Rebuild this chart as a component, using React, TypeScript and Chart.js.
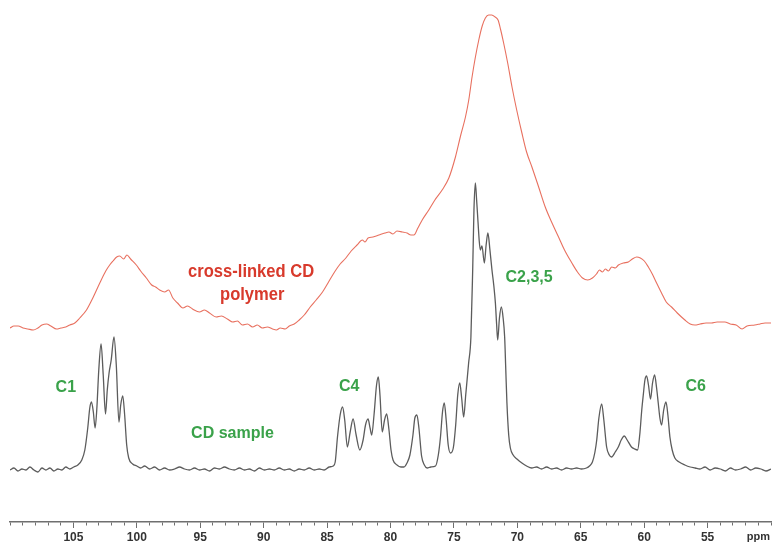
import { useEffect, useRef } from 'react';
import { Chart, registerables } from 'chart.js';

Chart.register(...registerables);

// CD sample (black trace): chemical shift (ppm) and intensity (a.u.)
const sampleShift = [
  110.0, 109.69, 109.37, 109.06, 108.74, 108.43, 108.11, 107.8, 107.48, 107.17, 106.85, 106.54, 106.23, 105.91,
  105.6, 105.28, 104.97, 104.65, 104.34, 104.1, 103.87, 103.71, 103.58, 103.43, 103.29, 103.16, 103.0, 102.82,
  102.65, 102.47, 102.33, 102.19, 102.02, 101.8, 101.62, 101.41, 101.27, 101.11, 100.96, 100.8, 100.64, 100.33,
  100.01, 99.7, 99.38, 98.99, 98.6, 98.21, 97.81, 97.42, 97.03, 96.63, 96.24, 95.85, 95.45, 95.06, 94.67, 94.27,
  93.88, 93.49, 93.09, 92.7, 92.31, 91.91, 91.52, 91.13, 90.73, 90.34, 89.95, 89.55, 89.16, 88.77, 88.38, 87.98,
  87.59, 87.2, 86.8, 86.41, 86.02, 85.62, 85.23, 84.84, 84.52, 84.36, 84.18, 83.97, 83.78, 83.61, 83.4, 83.18,
  82.95, 82.71, 82.42, 82.16, 81.97, 81.77, 81.61, 81.48, 81.3, 81.1, 80.96, 80.83, 80.65, 80.47, 80.3, 80.12,
  79.96, 79.8, 79.49, 79.18, 78.94, 78.7, 78.47, 78.23, 78.08, 77.92, 77.76, 77.55, 77.33, 77.11, 76.82, 76.45,
  76.23, 76.06, 75.9, 75.76, 75.61, 75.45, 75.27, 75.05, 74.86, 74.7, 74.54, 74.39, 74.23, 74.07, 73.84, 73.66,
  73.52, 73.42, 73.31, 73.21, 73.1, 73.01, 72.92, 72.79, 72.6, 72.46, 72.32, 72.16, 72.0, 71.86, 71.73, 71.63,
  71.55, 71.41, 71.26, 71.12, 71.0, 70.91, 70.82, 70.68, 70.55, 70.33, 70.03, 69.64, 69.27, 68.87, 68.48, 68.09,
  67.69, 67.3, 66.91, 66.51, 66.12, 65.73, 65.33, 64.94, 64.55, 64.31, 64.08, 63.88, 63.74, 63.57, 63.35, 63.18,
  62.96, 62.75, 62.57, 62.28, 62.04, 61.81, 61.57, 61.34, 61.0, 60.75, 60.52, 60.35, 60.19, 60.07, 59.94, 59.81,
  59.66, 59.5, 59.34, 59.18, 59.02, 58.89, 58.76, 58.63, 58.46, 58.28, 58.13, 57.97, 57.79, 57.58, 57.24, 56.79,
  56.37, 55.98, 55.6, 55.2, 54.8, 54.4, 54.0, 53.6, 53.2, 52.8, 52.4, 52.0, 51.6, 51.2, 50.8, 50.4, 50.0,
];
const sampleIntensity = [
  52, 54, 51, 53, 52, 55, 52, 50, 54, 52, 54, 51, 53, 52,
  55, 53, 55, 57, 62, 72, 94, 114, 120, 110, 94, 112, 152, 178,
  147, 108, 132, 149, 162, 185, 157, 100, 117, 126, 107, 77, 64, 58,
  56, 54, 56, 53, 55, 52, 54, 52, 53, 55, 53, 52, 54, 52, 53, 51,
  54, 53, 55, 53, 52, 54, 52, 53, 51, 54, 52, 53, 52, 54, 52, 53,
  51, 53, 52, 54, 52, 53, 52, 55, 56, 60, 85, 107, 115, 102, 75, 90,
  103, 87, 72, 82, 97, 103, 94, 87, 107, 137, 145, 127, 90, 102, 108, 92,
  72, 62, 57, 55, 55, 59, 67, 87, 104, 107, 94, 66, 57, 54, 55, 56,
  67, 85, 110, 119, 102, 77, 69, 74, 97, 127, 139, 124, 105, 127, 159, 185,
  252, 312, 339, 322, 300, 282, 272, 276, 259, 277, 289, 272, 252, 237, 219, 197,
  182, 204, 215, 204, 185, 152, 119, 87, 74, 67, 63, 59, 56, 54, 55, 53,
  55, 53, 54, 52, 54, 53, 54, 53, 54, 56, 60, 70, 82, 104, 118, 102,
  75, 67, 65, 70, 75, 82, 86, 82, 75, 73, 72, 87, 112, 127, 142, 146,
  137, 123, 139, 147, 134, 119, 104, 97, 112, 120, 107, 85, 72, 64, 60, 57,
  55, 54, 53, 55, 52, 54, 53, 51, 54, 52, 53, 55, 52, 54, 53, 51, 53,
];

// Cross-linked CD polymer (red trace)
const polymerShift = [
  110.0, 109.69, 109.35, 108.98, 108.58, 108.17, 107.8, 107.48, 107.11, 106.78, 106.33, 105.99, 105.6, 105.28,
  104.89, 104.5, 103.97, 103.47, 102.92, 102.45, 102.14, 101.88, 101.59, 101.35, 101.04, 100.78, 100.49, 100.04,
  99.7, 99.25, 98.83, 98.52, 98.2, 97.81, 97.5, 97.16, 96.79, 96.37, 96.0, 95.61, 95.06, 94.67, 94.27, 93.75,
  93.33, 92.86, 92.44, 92.07, 91.68, 91.28, 90.87, 90.5, 90.11, 89.71, 89.3, 89.0, 88.69, 88.3, 87.98, 87.59,
  87.2, 86.8, 86.33, 85.86, 85.36, 84.84, 84.36, 83.97, 83.52, 83.1, 82.64, 82.22, 82.01, 81.77, 81.38, 80.91,
  80.44, 80.12, 79.81, 79.49, 79.07, 78.7, 78.39, 78.15, 77.84, 77.5, 76.98, 76.5, 75.93, 75.4, 74.88, 74.46,
  74.09, 73.83, 73.57, 73.32, 73.04, 72.77, 72.52, 72.26, 72.02, 71.75, 71.52, 71.31, 71.08, 70.76, 70.42, 70.05,
  69.64, 69.27, 68.85, 68.32, 67.8, 67.3, 66.75, 66.28, 65.7, 65.26, 64.86, 64.45, 64.08, 63.76, 63.53, 63.29,
  63.06, 62.82, 62.56, 62.27, 62.03, 61.64, 61.25, 60.93, 60.59, 60.3, 59.99, 59.67, 59.36, 59.02, 58.63, 58.26,
  57.84, 57.39, 56.79, 56.37, 56.0, 55.59, 55.12, 54.7, 54.25, 53.64, 53.22, 52.75, 52.28, 51.89, 51.28, 50.87,
  50.47, 50.0,
];
const polymerIntensity = [
  194, 196, 196, 194, 193, 192, 194, 197, 198, 196, 193, 194, 195, 197,
  199, 204, 212, 224, 239, 251, 257, 261, 265, 266, 263, 267, 263, 257,
  251, 244, 237, 235, 232, 230, 232, 224, 219, 214, 216, 213, 210, 212, 209, 205,
  206, 203, 200, 201, 197, 198, 195, 197, 194, 195, 193, 192, 194, 193, 196, 198,
  202, 207, 215, 222, 230, 241, 251, 258, 264, 271, 277, 282, 280, 284, 285, 287,
  289, 290, 288, 291, 290, 289, 287, 287, 294, 302, 312, 322, 332, 344, 365, 387,
  405, 422, 445, 464, 482, 496, 504, 507, 507, 505, 502, 492, 479, 459, 435, 412,
  389, 370, 355, 335, 315, 300, 285, 272, 259, 250, 244, 242, 244, 248, 252, 250,
  253, 251, 255, 254, 257, 259, 260, 263, 265, 264, 261, 255, 248, 239, 229, 220,
  215, 209, 202, 198, 197, 198, 199, 199, 200, 200, 198, 197, 193, 196, 197, 198,
  199, 199,
];

// Axis
const labelledTicks = [105, 100, 95, 90, 85, 80, 75, 70, 65, 60, 55];
const unitTick = 51;
const unitLabel = 'ppm';

// Text annotations
const noteTexts = ['cross-linked CD', 'polymer', 'C1', 'CD sample', 'C4', 'C2,3,5', 'C6'];
const noteShift = [90.99, 90.9, 105.6, 92.46, 83.26, 69.07, 55.94];
const noteHeight = [245, 222, 130, 84.5, 131, 240, 131];
const noteKind = ['polymer', 'polymer', 'peak', 'peak', 'peak', 'peak', 'peak'];

const FONT = "'Liberation Sans', Arial, sans-serif";
const RED_TEXT = '#d83a2c';
const GREEN_TEXT = '#3aa24a';

const notesPlugin = {
  id: 'notes',
  afterDatasetsDraw(chart: any) {
    const { ctx, scales } = chart;
    noteTexts.forEach((t, i) => {
      const poly = noteKind[i] === 'polymer';
      const px = scales.x.getPixelForValue(noteShift[i]);
      const py = scales.y.getPixelForValue(noteHeight[i]);
      ctx.save();
      ctx.textAlign = 'center';
      ctx.textBaseline = 'alphabetic';
      ctx.translate(px, py);
      if (poly) ctx.scale(0.92, 1);
      ctx.font = `bold ${poly ? 18 : 16}px ${FONT}`;
      ctx.fillStyle = poly ? RED_TEXT : GREEN_TEXT;
      ctx.fillText(t, 0, 0);
      ctx.restore();
    });
  },
};

export default function App() {
  const ref = useRef<HTMLCanvasElement>(null);
  useEffect(() => {
    document.body.style.margin = '0';
    const chart = new Chart(ref.current as HTMLCanvasElement, {
      type: 'line',
      data: {
        datasets: [
          {
            label: 'cross-linked CD polymer',
            data: polymerShift.map((x, i) => ({ x, y: polymerIntensity[i] })),
            borderColor: '#e8705f',
            borderWidth: 1.1,
            pointRadius: 0,
            cubicInterpolationMode: 'monotone',
          },
          {
            label: 'CD sample',
            data: sampleShift.map((x, i) => ({ x, y: sampleIntensity[i] })),
            borderColor: '#5c5c5c',
            borderWidth: 1.3,
            pointRadius: 0,
            cubicInterpolationMode: 'monotone',
          },
        ],
      },
      options: {
        animation: false,
        responsive: false,
        devicePixelRatio: 1,
        layout: { padding: { left: 10, right: 0, top: 14, bottom: 0 } },
        plugins: { legend: { display: false }, tooltip: { enabled: false } },
        scales: {
          x: {
            type: 'linear',
            min: 50,
            max: 110,
            reverse: true,
            afterFit: (scale: any) => {
              scale.height = 23;
            },
            border: { display: true, color: '#6f6f6f', width: 1.5 },
            grid: {
              drawOnChartArea: false,
              drawTicks: true,
              tickLength: 6,
              tickColor: '#6f6f6f',
              tickWidth: 1,
              tickBorderDash: (ctx: any) =>
                ctx.tick && labelledTicks.includes(Math.round(ctx.tick.value)) ? [] : [3, 30],
            },
            ticks: {
              stepSize: 1,
              autoSkip: false,
              maxRotation: 0,
              minRotation: 0,
              padding: 2,
              color: '#333',
              font: (ctx: any) =>
                ctx.tick && Math.round(ctx.tick.value) === unitTick
                  ? { family: FONT, size: 11, weight: 'bold' }
                  : { family: FONT, size: 12, weight: 'bold' },
              callback: (v: any) => {
                const n = Math.round(Number(v));
                if (labelledTicks.includes(n)) return String(n);
                if (n === unitTick) return unitLabel;
                return '';
              },
            },
          },
          y: { display: false, min: 0, max: 508 },
        },
      },
      plugins: [notesPlugin],
    } as any);
    return () => chart.destroy();
  }, []);
  return (
    <div style={{ position: 'absolute', left: 0, top: 0, width: 773, height: 545, background: '#fff' }}>
      <canvas ref={ref} width={773} height={545} style={{ display: 'block' }} />
    </div>
  );
}
